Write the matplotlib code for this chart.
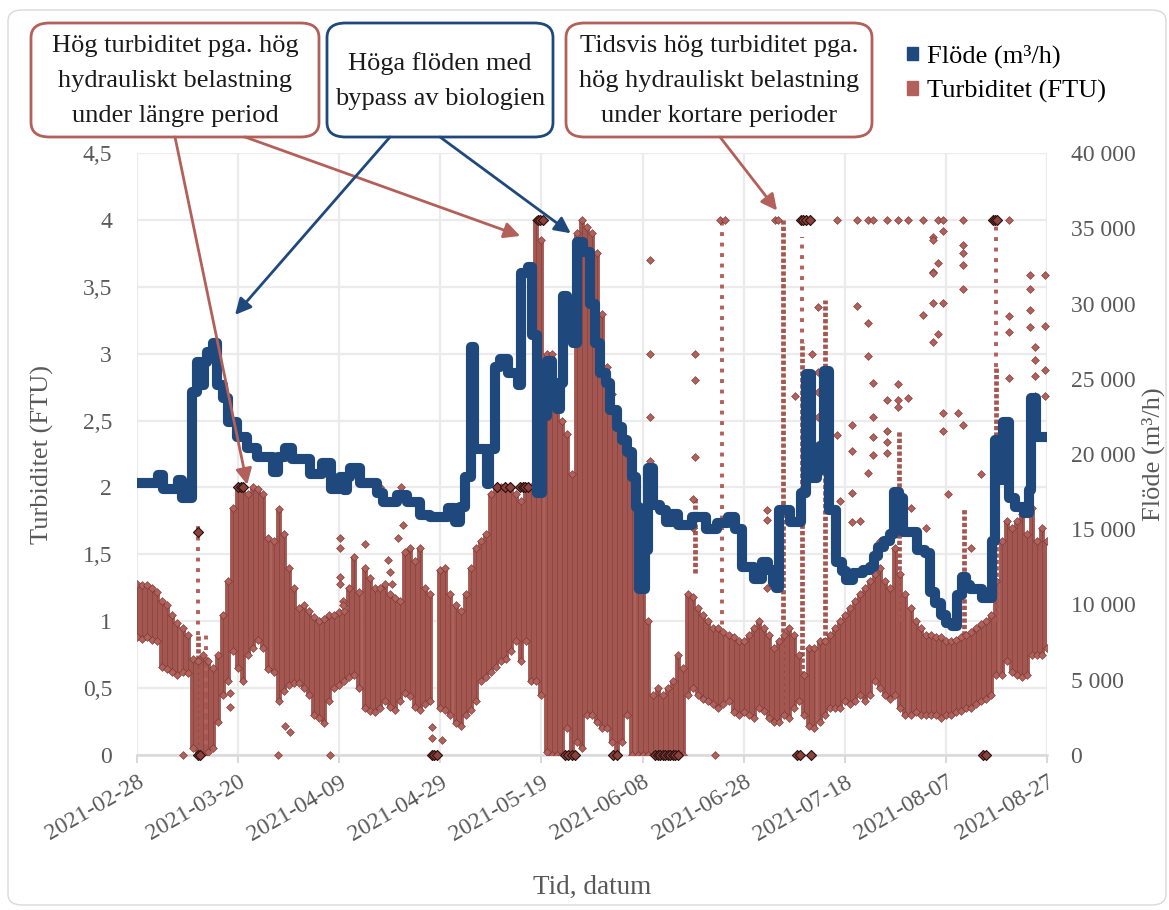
import numpy as np
import pandas as pd
import matplotlib
matplotlib.use('Agg')
import matplotlib.pyplot as plt
import matplotlib.dates as mdates
from matplotlib.patches import FancyBboxPatch, Patch, ConnectionPatch
from matplotlib.ticker import FixedLocator, FuncFormatter

plt.rcParams['font.family'] = ['Liberation Serif', 'DejaVu Serif']

start = pd.Timestamp('2021-02-28')

# Flöde (m3/h), stegvis: dag från start och värde
flow_day = [0, 4.2, 5.1, 8.1, 8.9, 10.9, 11.9, 12.7, 13.3, 13.8,
            15.0, 15.8, 17.0, 18.0, 19.8, 21.8, 23.7, 26.9, 27.9, 29.3,
            30.7, 34.2, 36.6, 38.4, 40.1, 41.0, 41.6, 42.1, 44.1, 47.5,
            48.7, 51.4, 53.4, 56.0, 58.0, 61.5, 62.9, 63.9, 64.9, 66.1,
            66.7, 69.2, 69.6, 70.8, 71.8, 73.4, 75.4, 76.0, 77.3, 78.1,
            79.1, 80.1, 81.1, 82.1, 83.0, 83.6, 84.2, 85.0, 86.2, 87.0,
            88.2, 89.6, 90.6, 91.6, 92.8, 93.6, 94.9, 95.9, 96.9, 97.9,
            98.7, 99.3, 100.5, 101.1, 102.1, 103.4, 104.6, 105.8, 107.0, 109.8,
            112.5, 114.7, 116.9, 118.3, 119.7, 122.1, 123.6, 124.8, 125.8, 126.4,
            127.0, 129.2, 131.3, 132.3, 133.3, 134.5, 135.1, 135.9, 136.9, 138.3,
            139.4, 140.2, 141.6, 143.6, 145.0, 145.8, 146.6, 147.7, 148.9, 149.7,
            150.7, 151.5, 154.3, 155.9, 156.8, 157.8, 159.0, 160.0, 161.2, 162.1,
            163.2, 164.0, 164.8, 167.1, 169.1, 169.7, 170.5, 171.3, 172.5, 173.7,
            175.4, 176.4, 176.8, 177.8, 180.0]
flow_val = [18100, 18600, 17700, 18300, 17100, 24100, 26100, 24600, 26100, 26800,
            27400, 24600, 23700, 22100, 21100, 20400, 19800, 18800, 19800, 20400,
            19700, 18700, 19400, 17700, 18500, 17600, 18500, 19100, 18100, 17400,
            16800, 17300, 16800, 15950, 15800, 16400, 15500, 16500, 18500, 27100,
            20300, 18000, 20300, 25800, 26300, 25400, 24600, 32000, 32400, 27900,
            17400, 22500, 26200, 24700, 23000, 24700, 30500, 29400, 27400, 34100,
            33400, 30000, 27400, 25400, 24700, 22900, 21800, 20900, 20100, 18500,
            16500, 11000, 13600, 19100, 16600, 16300, 15500, 16000, 15300, 15800,
            15000, 15400, 15800, 15000, 12500, 11700, 12800, 12300, 11400, 11100,
            16300, 15500, 17400, 25300, 18400, 18900, 20500, 25500, 16300, 12800,
            12200, 11600, 12100, 12300, 12500, 13200, 13800, 14200, 14700, 17500,
            17100, 14800, 13600, 13400, 10800, 10100, 9300, 8800, 8600, 10600,
            11800, 11300, 11000, 10400, 14200, 20900, 18300, 22100, 17100, 16500,
            16100, 17600, 23700, 21100, 21100]

# Turbiditet (FTU): dygnets högsta och lägsta värde, dag 0..180
turb_high = [1.28, 1.27, 1.27, 1.25, 1.22, 1.15, 1.12, 1.05, 0.99, 0.95,
             0.90, 0.72, 0.70, 0.75, 0.70, 0.65, 0.75, 1.05, 1.30, 1.85,
             2.00, 2.00, 1.95, 2.00, 1.99, 1.95, 1.62, 1.60, 1.84, 1.65,
             1.40, 1.25, 1.10, 1.12, 1.08, 1.03, 1.00, 1.02, 1.05, 1.05,
             1.07, 1.08, 1.25, 1.48, 1.22, 1.40, 1.32, 1.25, 1.25, 1.28,
             1.20, 1.17, 1.15, 1.52, 1.55, 1.45, 1.55, 1.25, 1.20, np.nan,
             1.38, 1.40, 1.20, 1.12, 1.08, 1.20, 1.40, 1.55, 1.60, 1.65,
             1.95, 2.00, 2.00, 2.00, 2.00, 1.95, 1.90, 2.00, 2.00, 4.00,
             3.85, 3.00, 3.00, 2.60, 2.50, 2.40, 2.10, 3.90, 4.00, 3.95,
             3.90, 3.75, 3.30, 2.90, 2.70, 2.50, 2.45, 2.25, 2.10, 1.80,
             1.40, 1.00, 0.45, 0.50, 0.45, 0.50, 0.55, 0.75, 0.65, 1.20,
             1.18, 1.10, 1.05, 1.00, 0.95, 0.95, 0.92, 0.90, 0.88, 0.85,
             0.85, 0.90, 0.95, 1.00, 0.95, 0.90, 0.80, 0.85, 0.90, 0.95,
             0.90, 0.75, 0.60, 0.80, 0.80, 0.85, 0.85, 0.90, 0.95, 1.00,
             1.05, 1.10, 1.15, 1.20, 1.25, 1.30, 1.35, 1.40, 1.30, 1.25,
             1.55, 1.35, 1.20, 1.10, 1.00, 0.95, 0.90, 0.90, 0.88, 0.88,
             0.85, 0.85, 0.86, 0.88, 0.90, 0.92, 0.95, 0.98, 1.00, 1.05,
             1.30, 1.60, 1.75, 1.70, 1.75, 1.80, 1.65, 1.85, 1.60, 1.70,
             1.60]
turb_low = [0.88, 0.87, 0.88, 0.86, 0.85, 0.66, 0.64, 0.62, 0.60, 0.62,
            0.61, 0.05, 0.00, 0.00, 0.02, 0.05, 0.25, 0.45, 0.55, 0.78,
            0.65, 0.55, 0.75, 0.80, 0.86, 0.80, 0.64, 0.62, 0.40, 0.48,
            0.52, 0.54, 0.54, 0.50, 0.45, 0.30, 0.28, 0.24, 0.40, 0.50,
            0.52, 0.55, 0.58, 0.60, 0.50, 0.35, 0.33, 0.32, 0.35, 0.40,
            0.36, 0.34, 0.40, 0.46, 0.44, 0.36, 0.34, 0.38, 0.40, np.nan,
            0.35, 0.34, 0.30, 0.24, 0.22, 0.30, 0.34, 0.40, 0.55, 0.58,
            0.62, 0.66, 0.70, 0.72, 0.78, 0.85, 0.70, 0.85, 0.55, 0.55,
            0.45, 0.02, 0.00, 0.00, 0.00, 0.20, 0.00, 0.10, 0.05, 0.30,
            0.30, 0.25, 0.20, 0.20, 0.10, 0.00, 0.10, 0.30, 0.00, 0.00,
            0.00, 0.00, 0.00, 0.00, 0.00, 0.00, 0.00, 0.00, 0.00, 0.45,
            0.50, 0.45, 0.42, 0.40, 0.38, 0.35, 0.38, 0.40, 0.32, 0.30,
            0.32, 0.30, 0.28, 0.35, 0.33, 0.28, 0.25, 0.25, 0.30, 0.28,
            0.35, 0.40, 0.30, 0.22, 0.20, 0.25, 0.30, 0.35, 0.35, 0.35,
            0.40, 0.38, 0.40, 0.45, 0.40, 0.45, 0.55, 0.50, 0.45, 0.42,
            0.45, 0.35, 0.30, 0.30, 0.32, 0.30, 0.30, 0.30, 0.30, 0.28,
            0.30, 0.30, 0.32, 0.33, 0.35, 0.35, 0.38, 0.40, 0.42, 0.45,
            0.60, 0.60, 0.70, 0.62, 0.60, 0.58, 0.60, 0.75, 0.75, 0.75,
            0.80]

# Korta toppar: täta och glesa kolumner av mätvärden
dense_day = [12.0, 110.4, 127.7, 131.6, 136.0, 150.8, 163.6, 170.0]
dense_low = [0.00, 1.36, 0.30, 0.60, 0.80, 1.00, 0.90, 1.00]
dense_high = [0.90, 1.93, 4.00, 3.08, 3.40, 2.43, 1.85, 2.90]
sparse_day = [12.0, 13.7, 115.8, 131.6, 170.0]
sparse_low = [0.90, 0.00, 0.90, 3.08, 2.90]
sparse_high = [1.72, 0.90, 4.00, 3.87, 4.00]

# Enstaka avvikande mätvärden
out_day = [18.4, 18.4, 29.3, 30.3, 40.2, 40.2, 40.2, 40.2, 40.7, 40.7,
           45.1, 48.1, 49.6, 50.0, 50.4, 51.6, 52.2, 52.6, 58.3, 58.3,
           60.3, 101.5, 101.5, 101.5, 101.5, 110.0, 110.0, 110.4, 110.4, 110.4,
           114.3, 124.6, 124.6, 124.6, 130.1, 133.5, 134.7, 134.7, 134.7, 134.7,
           138.4, 141.4, 141.4, 141.4, 141.4, 142.4, 144.6, 144.6, 144.6, 145.6,
           145.6, 145.6, 145.6, 148.3, 148.3, 148.3, 148.3, 150.5, 150.5, 150.5,
           152.5, 155.5, 157.4, 157.4, 157.4, 157.4, 157.4, 157.4, 158.4, 158.4,
           159.4, 159.4, 159.4, 159.4, 162.4, 163.4, 163.4, 163.4, 163.4, 163.4,
           172.5, 172.5, 172.5, 176.6, 176.6, 176.6, 176.6, 177.6, 177.6, 177.6,
           177.6, 179.6, 179.6, 179.6, 179.6, 139.0, 143.0, 147.0, 153.0, 156.0,
           160.5, 165.0, 167.0, 115.3, 116.3, 126.2, 126.8, 138.4, 142.4, 144.6,
           145.6, 148.3, 150.5, 152.5, 155.5, 158.4, 159.4, 163.4, 172.5, 9.1,
           27.9, 38.2]
out_val = [0.46, 0.36, 0.22, 0.17, 1.62, 1.55, 1.33, 1.28, 1.15, 1.12,
           1.58, 2.00, 1.46, 1.37, 1.28, 1.62, 2.00, 1.72, 0.21, 0.13,
           0.11, 3.70, 3.00, 2.53, 2.20, 1.91, 1.70, 3.00, 2.80, 2.23,
           0.00, 1.83, 1.76, 1.25, 2.68, 3.00, 3.35, 2.86, 2.71, 2.53,
           2.39, 2.47, 2.27, 1.96, 1.74, 3.36, 3.23, 2.98, 2.11, 2.78,
           2.53, 2.38, 2.24, 2.65, 2.42, 2.34, 2.26, 2.77, 2.65, 2.60,
           2.67, 3.29, 3.87, 3.85, 3.61, 3.60, 3.38, 3.09, 3.68, 3.15,
           3.92, 3.38, 2.56, 2.42, 2.56, 3.81, 3.75, 3.66, 3.48, 2.47,
           3.28, 3.16, 2.82, 3.59, 3.48, 3.33, 3.20, 3.05, 2.95, 2.83,
           2.68, 3.59, 3.21, 2.88, 2.68, 1.90, 1.75, 1.60, 1.85, 1.70,
           1.95, 1.55, 2.10, 4.00, 4.00, 4.00, 4.00, 4.00, 4.00, 4.00,
           4.00, 4.00, 4.00, 4.00, 4.00, 4.00, 4.00, 4.00, 4.00, 0.00,
           0.00, 0.00]

# Många överlappande värden vid 0, 2 och 4 FTU
clip_day = [79.3, 79.7, 80.3, 131.3, 131.7, 132.3, 133.1, 169.3, 169.7, 170.1,
            20.0, 20.5, 21.0, 71.2, 72.8, 73.8, 75.8, 76.3, 76.8, 77.3,
            12.1, 12.0, 12.4, 58.3, 58.7, 59.3, 84.7, 85.2, 86.0, 86.6,
            94.1, 94.9, 102.5, 103.0, 103.5, 104.0, 104.5, 105.0, 105.5, 106.0,
            106.5, 107.0, 130.5, 131.1, 133.3, 167.3, 167.9]
clip_val = [4.0, 4.0, 4.0, 4.0, 4.0, 4.0, 4.0, 4.0, 4.0, 4.0,
            2.0, 2.0, 2.0, 2.0, 2.0, 2.0, 2.0, 2.0, 2.0, 2.0,
            1.67, 0.0, 0.0, 0.0, 0.0, 0.0, 0.0, 0.0, 0.0, 0.0,
            0.0, 0.0, 0.0, 0.0, 0.0, 0.0, 0.0, 0.0, 0.0, 0.0,
            0.0, 0.0, 0.0, 0.0, 0.0, 0.0, 0.0]

BLUE = '#1f497d'
RED = '#b3605a'
BAND = '#a45650'
EDGE = '#6b3430'
GRAY = '#595959'

base = mdates.date2num(start)


def dx(days):
    return base + np.asarray(days, dtype=float)


W, H = 1169, 910
fig = plt.figure(figsize=(W / 100, H / 100), dpi=100)
ax = fig.add_axes([137 / W, 1 - 755 / H, 910 / W, 602 / H])
ax2 = ax.twinx()

# turbiditet, dygnsband
hi = np.array(turb_high)
lo = np.array(turb_low)
bx = dx(np.arange(len(hi)))
ok = ~np.isnan(hi)
ax.vlines(bx[ok], lo[ok], hi[ok], color=BAND, lw=4.2, zorder=3)
ax.vlines(bx[ok], lo[ok], hi[ok], color='#3e1917', lw=0.45, alpha=0.35, zorder=3)
ax.scatter(bx[ok], hi[ok], marker='D', s=16, c=RED, edgecolors=EDGE, linewidths=0.4, zorder=4)
ax.scatter(bx[ok], lo[ok], marker='D', s=16, c=RED, edgecolors=EDGE, linewidths=0.4, zorder=4)

ax.vlines(dx(dense_day), dense_low, dense_high, color=BAND, lw=3.4,
          linestyles=[(0, (0.9, 0.45))], zorder=3)
ax.vlines(dx(sparse_day), sparse_low, sparse_high, color=RED, lw=2.8,
          linestyles=[(0, (1.0, 1.7))], zorder=3)
ax.scatter(dx(out_day), out_val, marker='D', s=16, c=RED, edgecolors=EDGE,
           linewidths=0.4, zorder=4, clip_on=False)
ax.scatter(dx(clip_day), clip_val, marker='D', s=26, c='#8a423d', edgecolors='#2a0f0d',
           linewidths=0.8, zorder=5, clip_on=False)

# flöde
ax2.plot(dx(flow_day), flow_val, drawstyle='steps-post', color=BLUE, lw=7.3,
         solid_joinstyle='round', solid_capstyle='round', zorder=3)

# axlar
xt = dx(np.arange(0, 181, 20))
ax.set_xlim(xt[0], xt[-1])
ax.xaxis.set_major_locator(FixedLocator(xt))
ax.xaxis.set_major_formatter(mdates.DateFormatter('%Y-%m-%d'))
ax.set_ylim(0, 4.5)
ax.set_yticks(np.arange(0, 4.51, 0.5))
ax.yaxis.set_major_formatter(FuncFormatter(lambda v, p: f'{v:g}'.replace('.', ',')))
ax2.set_ylim(0, 40000)
ax2.set_yticks(np.arange(0, 40001, 5000))
ax2.yaxis.set_major_formatter(FuncFormatter(lambda v, p: f'{int(v):,}'.replace(',', ' ')))

ax.set_axisbelow(True)
ax.grid(True, color='#ebebeb', lw=1.6)
for s in ['top', 'left', 'right']:
    ax.spines[s].set_visible(False)
    ax2.spines[s].set_visible(False)
ax.spines['bottom'].set_color('#d9d9d9')
ax.spines['bottom'].set_linewidth(1.8)
ax2.spines['bottom'].set_visible(False)

ax.tick_params(axis='y', length=0, pad=18, labelsize=17, labelcolor=GRAY)
ax2.tick_params(axis='y', length=0, pad=17, labelsize=17, labelcolor=GRAY)
ax.tick_params(axis='x', length=6, width=1.5, color='#d9d9d9', pad=6,
               labelsize=17, labelcolor=GRAY)
for lab in ax.get_xticklabels():
    lab.set_rotation(30)
    lab.set_ha('right')
    lab.set_rotation_mode('anchor')

ax.set_ylabel('Turbiditet (FTU)', fontsize=19, color=GRAY, va='center')
ax.yaxis.set_label_coords((42 - 137) / 910, 0.5)
ax2.set_ylabel('Flöde (m³/h)', fontsize=19, color=GRAY, va='center')
ax2.yaxis.set_label_coords((1153 - 137) / 910, 0.5)
ax.set_xlabel('Tid, datum', fontsize=19.5, color=GRAY, va='center')
ax.xaxis.set_label_coords((592 - 137) / 910, (755 - 887) / 602)

# legend
handles = [Patch(color=BLUE), Patch(color=RED)]
fig.legend(handles, ['Flöde (m³/h)', 'Turbiditet (FTU)'], loc='upper left',
           bbox_to_anchor=(907 / W, 1 - 45 / H), frameon=False, fontsize=19,
           handlelength=0.42, handleheight=0.42, handletextpad=0.35,
           labelspacing=0.42, borderpad=0, borderaxespad=0)

# ram runt diagrammet
fig.add_artist(FancyBboxPatch((8 / W, 1 - 905 / H), 1158 / W, 895 / H,
                              boxstyle='round,pad=0,rounding_size=0.012',
                              transform=fig.transFigure, fc='none', ec='#d9d9d9', lw=1))

# kommentarsrutor
boxes = [
    (31, 23, 288, 114, RED, 'Hög turbiditet pga. hög\nhydrauliskt belastning\nunder längre period'),
    (327, 23, 226, 114, BLUE, 'Höga flöden med\nbypass av biologien'),
    (566, 23, 306, 114, RED, 'Tidsvis hög turbiditet pga.\nhög hydrauliskt belastning\nunder kortare perioder'),
]
for x0, y0, w, h, col, txt in boxes:
    fig.add_artist(FancyBboxPatch((x0 / W, 1 - (y0 + h) / H), w / W, h / H,
                                  boxstyle='round,pad=0,rounding_size=0.016',
                                  transform=fig.transFigure, fc='white', ec=col, lw=2))
    fig.text((x0 + w / 2) / W, 1 - (y0 + h / 2 + 1) / H, txt, ha='center', va='center',
             fontsize=19, color='#1a1a1a', linespacing=1.75)

arrows = [
    ((175, 137), (21.8, 2.02), RED),
    ((245, 137), (75.8, 3.88), RED),
    ((390, 137), (19.4, 3.29), BLUE),
    ((440, 137), (85.8, 3.90), BLUE),
    ((720, 137), (126.6, 4.07), RED),
]
for (px, py), (d, v), col in arrows:
    fig.add_artist(ConnectionPatch(xyA=(px, H - py), coordsA='figure pixels',
                                   xyB=(base + d, v), coordsB=ax.transData,
                                   arrowstyle='-|>', mutation_scale=24, lw=2,
                                   color=col, zorder=10))

fig.savefig('out.png', dpi=100)
